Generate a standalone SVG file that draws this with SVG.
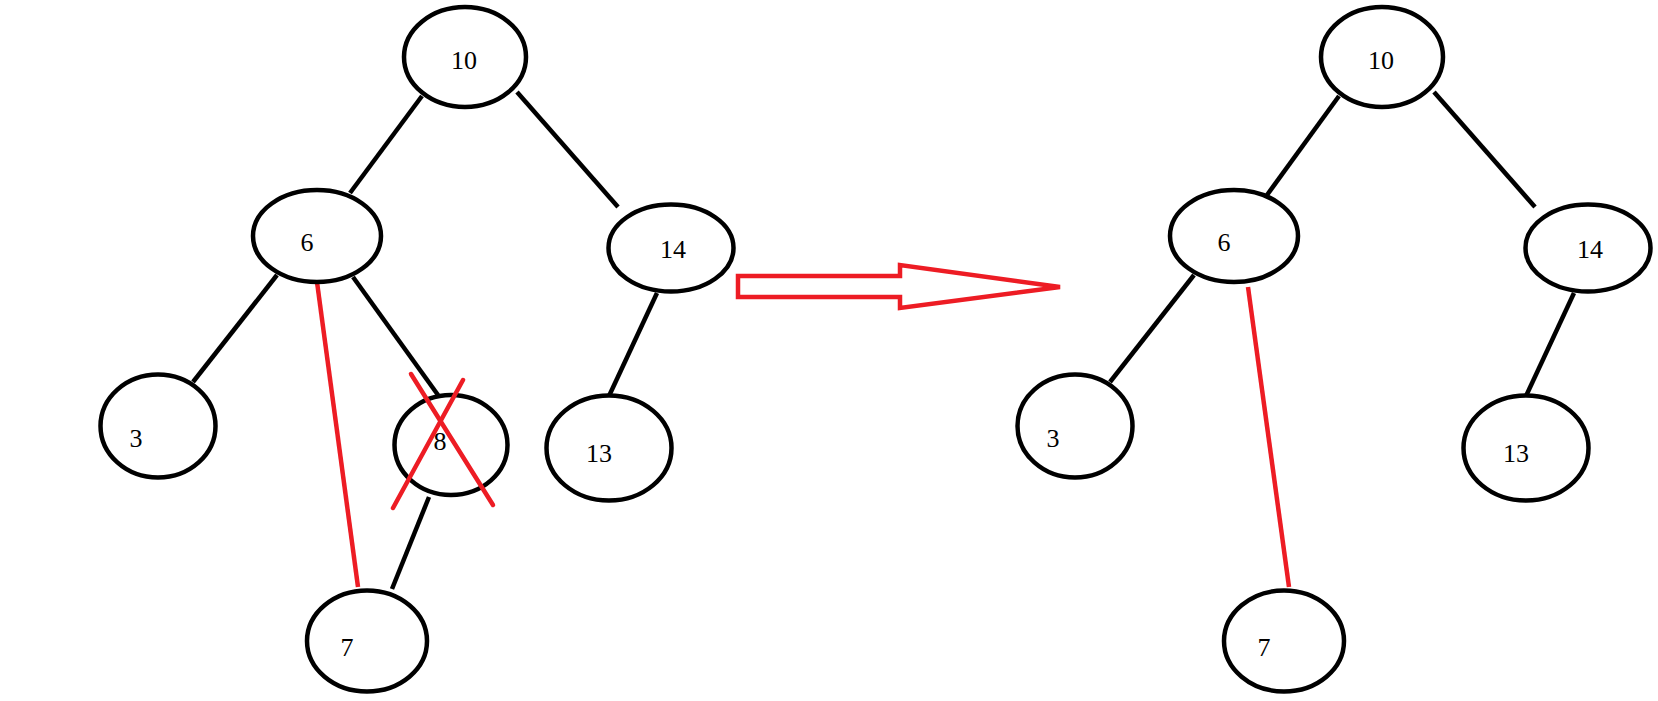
<svg xmlns="http://www.w3.org/2000/svg" width="1658" height="701" viewBox="0 0 1658 701">
<style>
.node ellipse{fill:#fff;stroke:#000;stroke-width:4.5}
.node text{font-family:"Liberation Serif","Times New Roman",serif;font-size:26px;fill:#000;text-anchor:middle}
.edge{stroke:#000;stroke-width:4.5;fill:none}
.red{stroke:#ed1c24;stroke-width:4.5;fill:none}
</style>
<rect width="1658" height="701" fill="#fff"/>
<g id="connectors">
<line class="edge" x1="422" y1="96" x2="350" y2="193"/>
<line class="edge" x1="517" y1="92" x2="618" y2="207"/>
<line class="edge" x1="277" y1="275" x2="193" y2="382"/>
<line class="edge" x1="353" y1="277" x2="438" y2="395"/>
<line class="edge" x1="429" y1="497" x2="392" y2="589"/>
<line class="edge" x1="657" y1="293" x2="609" y2="396"/>
<line class="red" x1="317" y1="282" x2="358" y2="587"/>
<line class="edge" x1="1339" y1="96" x2="1267" y2="195"/>
<line class="edge" x1="1434" y1="92" x2="1535" y2="207"/>
<line class="edge" x1="1194" y1="275" x2="1110" y2="382"/>
<line class="edge" x1="1574" y1="293" x2="1526" y2="396"/>
<line class="red" x1="1248" y1="287" x2="1289" y2="587"/>
</g>
<g id="n10a" class="node"><ellipse cx="465" cy="57" rx="61" ry="50"/><text x="464" y="69">10</text></g>
<g id="n14a" class="node"><ellipse cx="671" cy="248" rx="62.5" ry="43.5"/><text x="673" y="258">14</text></g>
<g id="n6a" class="node"><ellipse cx="317" cy="236" rx="64" ry="46"/><text x="307" y="251">6</text></g>
<g id="n3a" class="node"><ellipse cx="158" cy="426" rx="57.5" ry="51.5"/><text x="136" y="447">3</text></g>
<g id="n8" class="node"><ellipse cx="451" cy="445" rx="56.5" ry="50"/><text x="440" y="450">8</text></g>
<g id="n13a" class="node"><ellipse cx="609" cy="448" rx="62.5" ry="52.5"/><text x="599" y="462">13</text></g>
<g id="n7a" class="node"><ellipse cx="367" cy="641" rx="60" ry="50.5"/><text x="347" y="656">7</text></g>
<g id="cross">
<line class="red" x1="411" y1="374" x2="493" y2="505" stroke-linecap="round"/>
<line class="red" x1="463" y1="380" x2="393" y2="508" stroke-linecap="round"/>
</g>
<g id="arrow"><polygon class="red" points="738,276 900,276 900,265 1060,287 900,308 900,297 738,297"/></g>
<g id="n10b" class="node"><ellipse cx="1382" cy="57" rx="61" ry="50"/><text x="1381" y="69">10</text></g>
<g id="n14b" class="node"><ellipse cx="1588" cy="248" rx="62.5" ry="43.5"/><text x="1590" y="258">14</text></g>
<g id="n6b" class="node"><ellipse cx="1234" cy="236" rx="64" ry="46"/><text x="1224" y="251">6</text></g>
<g id="n3b" class="node"><ellipse cx="1075" cy="426" rx="57.5" ry="51.5"/><text x="1053" y="447">3</text></g>
<g id="n13b" class="node"><ellipse cx="1526" cy="448" rx="62.5" ry="52.5"/><text x="1516" y="462">13</text></g>
<g id="n7b" class="node"><ellipse cx="1284" cy="641" rx="60" ry="50.5"/><text x="1264" y="656">7</text></g>
</svg>
